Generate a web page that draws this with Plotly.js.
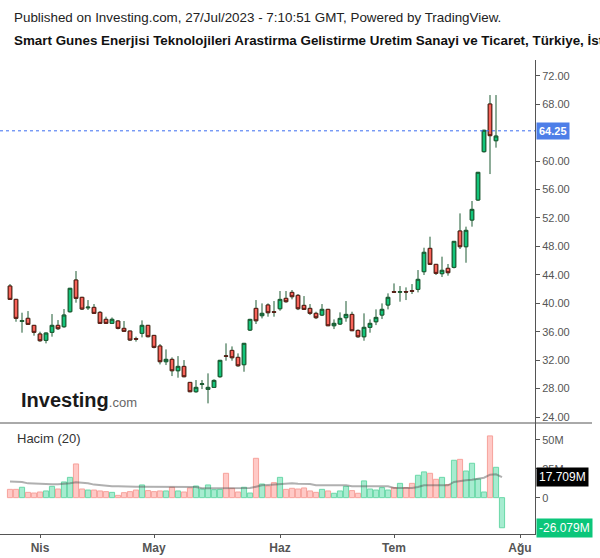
<!DOCTYPE html>
<html>
<head>
<meta charset="utf-8">
<script src="https://cdn.plot.ly/plotly-3.0.1.min.js"></script>
<style>html,body{margin:0;padding:0;background:#fff;}#chart{width:600px;height:558px;}</style>
</head>
<body>
<div id="chart"></div>
<script>
// ---- DATA ----
const dates = [
 '2023-03-27','2023-03-28','2023-03-29','2023-03-30','2023-03-31',
 '2023-04-03','2023-04-04','2023-04-05','2023-04-06','2023-04-07',
 '2023-04-10','2023-04-11','2023-04-12','2023-04-13','2023-04-14',
 '2023-04-17','2023-04-18','2023-04-19','2023-04-20',
 '2023-04-24','2023-04-25','2023-04-26','2023-04-27','2023-04-28',
 '2023-05-02','2023-05-03','2023-05-04','2023-05-05',
 '2023-05-08','2023-05-09','2023-05-10','2023-05-11','2023-05-12',
 '2023-05-15','2023-05-16','2023-05-17','2023-05-18',
 '2023-05-22','2023-05-23','2023-05-24','2023-05-25','2023-05-26',
 '2023-05-29','2023-05-30','2023-05-31',
 '2023-06-01','2023-06-02',
 '2023-06-05','2023-06-06','2023-06-07','2023-06-08','2023-06-09',
 '2023-06-12','2023-06-13','2023-06-14','2023-06-15','2023-06-16',
 '2023-06-19','2023-06-20','2023-06-21','2023-06-22','2023-06-23',
 '2023-06-26','2023-06-27',
 '2023-07-03','2023-07-04','2023-07-05','2023-07-06','2023-07-07',
 '2023-07-10','2023-07-11','2023-07-12','2023-07-13','2023-07-14',
 '2023-07-17','2023-07-18','2023-07-19','2023-07-20','2023-07-21',
 '2023-07-24','2023-07-25','2023-07-26','2023-07-27'
];
const open = [42.42,40.55,37.45,37.88,36.89,35.67,34.78,35.91,36.89,36.70,
 38.81,43.27,40.83,39.36,39.42,38.72,37.74,37.17,37.50,36.47,
 36.09,35.02,35.77,36.89,35.48,33.98,31.78,32.11,30.51,31.12,
 28.87,27.56,28.60,27.89,28.17,29.67,32.60,33.37,32.39,31.36,
 36.23,39.28,38.25,39.75,38.80,39.23,40.69,41.53,41.11,39.70,
 39.28,38.58,38.34,39.14,36.84,37.08,37.97,38.43,36.18,35.29,
 36.61,37.40,38.34,39.75,41.62,41.56,41.64,41.76,41.95,44.44,
 47.72,45.47,44.16,44.91,45.05,50.16,47.95,51.70,54.52,61.32,
 68.02,62.86];
const high = [42.70,40.60,38.67,38.90,36.90,36.00,35.85,38.48,37.64,39.19,
 42.10,44.53,40.90,40.45,39.89,38.90,38.11,38.00,37.60,37.50,
 36.10,35.30,37.59,36.90,35.50,34.26,33.51,32.39,32.57,32.01,
 28.90,29.20,29.20,30.14,29.30,32.00,34.36,33.93,32.95,34.40,
 37.80,40.45,39.98,39.98,40.31,41.72,41.72,41.86,41.30,41.01,
 39.89,38.81,39.89,39.20,37.73,38.72,40.31,38.81,36.32,38.58,
 37.73,39.14,39.98,41.39,42.79,42.42,42.23,42.70,44.67,47.81,
 49.36,45.50,46.55,45.52,48.75,52.64,50.77,54.38,58.45,64.40,
 69.28,69.28];
const low = [40.50,37.40,35.86,37.00,35.44,34.59,34.36,35.30,36.24,36.56,
 38.70,40.08,39.05,39.05,38.50,37.10,37.10,37.08,36.33,36.00,
 34.74,34.60,35.20,35.20,33.66,31.40,31.31,29.76,29.53,29.60,
 27.50,27.42,27.93,25.92,28.10,29.53,31.92,31.92,31.07,30.37,
 36.10,37.08,37.87,38.11,38.11,38.95,40.08,40.55,39.04,39.10,
 38.34,37.78,38.20,36.80,36.37,36.94,37.40,36.10,35.15,34.73,
 35.86,36.93,37.78,39.14,41.48,40.22,40.45,41.30,41.53,43.97,
 45.40,43.97,43.69,43.88,44.90,47.63,45.70,50.77,54.42,61.20,
 58.17,61.88];
const close = [40.55,37.88,37.55,37.03,35.91,34.73,35.81,36.89,36.42,38.34,
 42.10,40.69,39.19,39.44,38.58,37.17,37.17,37.74,36.47,36.05,
 34.83,34.95,36.89,35.30,33.80,31.78,32.11,30.51,31.12,29.67,
 27.56,28.17,28.66,28.17,29.15,31.97,32.55,32.34,31.21,34.36,
 37.73,37.54,38.58,38.67,38.74,40.54,40.22,40.92,39.23,39.14,
 38.58,37.97,39.14,36.84,37.17,37.87,38.43,36.14,35.29,36.61,
 37.17,38.01,39.14,40.83,41.56,41.62,41.58,41.70,43.36,47.16,
 45.47,44.20,44.63,44.30,48.70,47.95,50.25,53.20,58.41,64.32,
 63.57,63.51];
// volume in millions, one per date
const volume = [7.2,7.2,9.0,4.6,4.0,4.9,5.8,9.8,7.5,13.6,
 17.6,29.2,7.5,6.6,6.6,5.8,5.2,4.6,2.0,4.3,
 5.2,6.6,11.0,6.1,5.2,5.8,5.8,9.0,5.8,4.9,
 8.4,10.1,7.5,11.0,6.9,7.2,21.1,8.1,4.9,9.0,
 4.0,34.1,11.8,10.1,13.0,17.6,7.2,8.1,7.5,8.4,
 5.8,4.6,7.2,5.8,3.8,5.8,9.8,6.1,3.8,14.5,
 7.5,6.6,8.7,6.6,8.7,12.4,8.7,12.4,19.4,22.3,
 21.1,15.9,17.6,11.3,32.4,33.2,23.1,29.8,16.2,4.9,
 53.5,26.3,-26.079];
// 1 = up (green), 0 = down (red)
const volUp = [0,0,1,0,0,0,1,1,0,1,
 1,0,0,1,0,0,0,1,0,0,
 0,0,1,0,0,0,1,0,1,0,
 0,1,1,1,1,1,0,0,0,1,
 1,0,1,0,0,1,0,0,0,0,
 0,0,1,0,1,1,1,0,0,1,
 1,1,1,1,0,1,0,0,1,1,
 0,0,1,0,1,0,1,1,1,1,
 0,1,1];
// 20-period volume average (millions)
const volMA = [13.9,13.9,13.6,12.4,12.1,11.6,11.6,11.6,11.6,11.8,
 12.4,13.3,13.0,12.4,11.3,10.7,10.1,9.8,9.8,9.5,
 9.5,9.5,9.5,9.5,9.5,9.5,9.5,9.5,9.5,9.5,
 9.5,9.2,8.1,8.1,8.1,8.1,8.1,8.1,8.1,8.4,
 8.4,9.5,10.7,11.0,11.3,12.1,12.4,12.4,12.1,12.0,
 11.8,10.7,10.7,10.7,10.7,10.7,10.7,9.8,9.8,9.8,
 9.8,9.8,9.8,9.8,8.4,8.4,8.4,8.4,9.2,10.7,
 10.7,10.7,10.7,10.7,13.6,14.5,15.0,15.6,16.5,17.3,
 19.9,20.2,17.709];
const lastPrice = 64.25;
const monthTickIdx = [5,24,45,64,85];
const monthTickText = ['Nis','May','Haz','Tem','Ağu'];
// 64.00 sits under the last-price label in the reference, so it is not listed
const priceTicks = [24,28,32,36,40,44,48,52,56,60,68,72];
const volTicks = [0,25,50];
const volTickText = ['0','25M','50M'];

// ---- CHART ----
const xi = dates.map((d, i) => i);
const xc = xi.slice(0, open.length);
const bodyHigh = open.map((o, i) => Math.max(o, close[i]));
const bodyLow = open.map((o, i) => Math.min(o, close[i]));

const WICK = '#1d5a32', GFILL = '#12c47a', RFILL = '#f8645a', ROUT = '#5a1a14';
const FONT = 'Liberation Sans, Arial, sans-serif';

const traces = [
  { type: 'candlestick', x: xc, open: open, high: high, low: low, close: close,
    xaxis: 'x', yaxis: 'y', whiskerwidth: 0,
    increasing: { line: { color: WICK, width: 1 }, fillcolor: GFILL },
    decreasing: { line: { color: WICK, width: 1 }, fillcolor: RFILL },
    hoverinfo: 'skip' },
  { type: 'candlestick', x: xc, open: open, high: bodyHigh, low: bodyLow, close: close,
    xaxis: 'x', yaxis: 'y', whiskerwidth: 0,
    increasing: { line: { color: WICK, width: 1 }, fillcolor: GFILL },
    decreasing: { line: { color: ROUT, width: 1 }, fillcolor: RFILL },
    hoverinfo: 'skip' },
  { type: 'bar', x: xi, y: volume, xaxis: 'x', yaxis: 'y2', width: 0.86,
    marker: { color: volUp.map(u => u ? '#a6ecd0' : '#ffc9c6'),
              line: { color: volUp.map(u => u ? '#6ad8a8' : '#f7a29c'), width: 1 } },
    hoverinfo: 'skip' },
  { type: 'scatter', mode: 'lines', x: xi, y: volMA, xaxis: 'x', yaxis: 'y2',
    line: { color: 'rgba(80,80,80,0.45)', width: 2 }, hoverinfo: 'skip' }
];

const H = 474, TOP = 60;
const py = (px) => (TOP + H - px) / H; // paper y from pixel y
const W = 535;
const splitPx = 423;
const splitPaper = py(splitPx);

const layout = {
  width: 600, height: 558,
  margin: { l: 0, r: 65, t: 60, b: 24 },
  paper_bgcolor: '#ffffff', plot_bgcolor: '#ffffff',
  showlegend: false, hovermode: false,
  boxgap: 0.16, bargap: 0,
  font: { family: FONT, color: '#555' },
  xaxis: { domain: [0, 1], anchor: 'y2', range: [-1.667, 87.5],
    tickvals: monthTickIdx, ticktext: monthTickText,
    ticks: 'outside', ticklen: 3, tickcolor: '#555',
    showline: true, linecolor: '#555', linewidth: 1,
    tickfont: { family: FONT, size: 12, color: '#555', weight: 'bold' },
    showgrid: false, zeroline: false, rangeslider: { visible: false }, fixedrange: true },
  yaxis: { domain: [splitPaper, 1], anchor: 'x', side: 'right', range: [23.16, 74.21],
    tickvals: priceTicks, ticktext: priceTicks.map(v => v.toFixed(2)),
    ticks: 'outside', ticklen: 4, tickcolor: '#555',
    showline: true, linecolor: '#555', linewidth: 1,
    tickfont: { family: FONT, size: 11, color: '#555' },
    showgrid: false, zeroline: false, fixedrange: true },
  yaxis2: { domain: [0, splitPaper], anchor: 'x', side: 'right', range: [-31.5, 64.7],
    tickvals: volTicks, ticktext: volTickText,
    ticks: 'outside', ticklen: 4, tickcolor: '#555',
    showline: true, linecolor: '#555', linewidth: 1,
    tickfont: { family: FONT, size: 11, color: '#555' },
    showgrid: false, zeroline: false, fixedrange: true },
  shapes: [
    { type: 'line', xref: 'paper', yref: 'paper', x0: 0, x1: 592 / W, y0: splitPaper, y1: splitPaper,
      line: { color: '#555', width: 1 } },
    { type: 'line', xref: 'paper', yref: 'y', x0: 0, x1: 1, y0: lastPrice, y1: lastPrice,
      line: { color: '#3b6cf0', width: 1, dash: 'dot' } }
  ],
  annotations: [
    { xref: 'paper', yref: 'paper', x: 12 / W, y: py(17), xanchor: 'left', yanchor: 'middle',
      showarrow: false, text: 'Published on Investing.com, 27/Jul/2023 - 7:10:51 GMT, Powered by TradingView.',
      font: { family: FONT, size: 13.4, color: '#222' } },
    { xref: 'paper', yref: 'paper', x: 12 / W, y: py(40), xanchor: 'left', yanchor: 'middle',
      showarrow: false, text: '<b>Smart Gunes Enerjisi Teknolojileri Arastirma Gelistirme Uretim Sanayi ve Ticaret, Türkiye, İstanbul:SMRTG, D</b>',
      font: { family: FONT, size: 13.4, color: '#111' } },
    { xref: 'paper', yref: 'paper', x: 19 / W, y: py(400), xanchor: 'left', yanchor: 'middle',
      showarrow: false,
      text: '<b>Investing</b><span style="font-size:13px;color:#666">.com</span>',
      font: { family: FONT, size: 20, color: '#1a1a1a' } },
    { xref: 'paper', yref: 'paper', x: 15 / W, y: py(438), xanchor: 'left', yanchor: 'middle',
      showarrow: false, text: 'Hacim (20)',
      font: { family: FONT, size: 13, color: '#333' } },
    { xref: 'paper', yref: 'y', x: 536 / W, y: lastPrice, xanchor: 'left', yanchor: 'middle',
      showarrow: false, text: '<b>' + lastPrice.toFixed(2) + '</b>', bgcolor: '#4d7ee8', borderpad: 2,
      font: { family: FONT, size: 11, color: '#ffffff' } },
    { xref: 'paper', yref: 'y2', x: 536 / W, y: volMA[volMA.length - 1], xanchor: 'left', yanchor: 'middle',
      showarrow: false, text: volMA[volMA.length - 1].toFixed(3) + 'M', bgcolor: '#000000', borderpad: 2,
      font: { family: FONT, size: 12, color: '#ffffff' } },
    { xref: 'paper', yref: 'y2', x: 536 / W, y: volume[volume.length - 1], xanchor: 'left', yanchor: 'middle',
      showarrow: false, text: volume[volume.length - 1].toFixed(3) + 'M', bgcolor: '#0bc67a', borderpad: 2,
      font: { family: FONT, size: 12, color: '#ffffff' } }
  ]
};

Plotly.newPlot('chart', traces, layout, { staticPlot: true, displayModeBar: false });
</script>
</body>
</html>
